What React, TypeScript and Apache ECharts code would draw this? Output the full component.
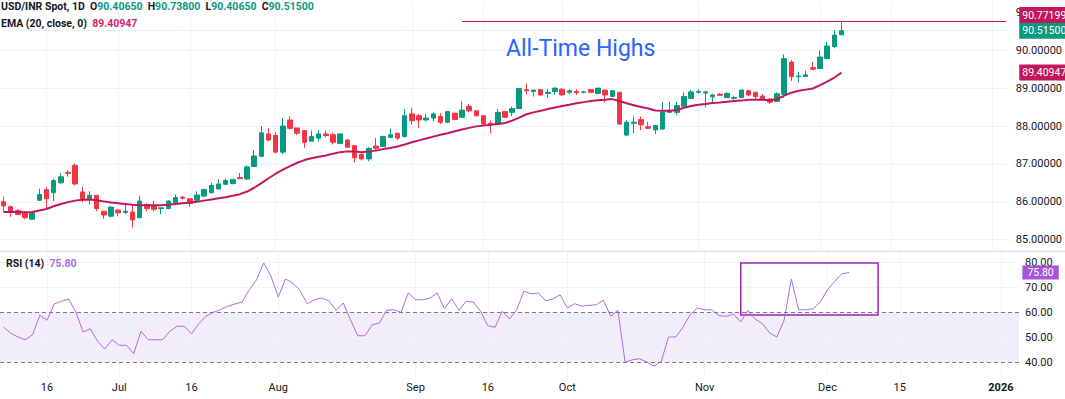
import React, { useEffect, useRef } from 'react';
import * as echarts from 'echarts';

const FONT = 'Roboto, "Liberation Sans", Arial, sans-serif';

const slotCount = 141;
const categories = Array.from({ length: slotCount }, (_, i) => String(i));

const xTickIndex = [6, 16, 26, 38, 57, 67, 78, 97, 114, 124, 138];
const xTickLabels = ['16', 'Jul', '16', 'Aug', 'Sep', '16', 'Oct', 'Nov', 'Dec', '15', '2026'];

const opens = [86.00,85.87,85.77,85.71,85.54,86.04,86.32,86.24,86.50,86.78,
86.96,86.26,86.06,86.17,85.75,85.62,85.78,85.72,85.73,85.58,
85.93,85.89,85.82,85.82,85.97,86.12,86.08,86.04,86.15,86.24,
86.34,86.46,86.48,86.64,86.60,86.93,87.20,87.79,87.75,87.31,
88.16,87.95,87.88,87.60,87.68,87.79,87.77,87.54,87.63,87.48,
87.25,87.13,87.47,87.46,87.70,87.81,87.72,88.32,88.27,88.16,
88.21,88.25,88.10,88.34,88.23,88.52,88.40,88.27,88.07,88.05,
88.38,88.36,88.46,88.96,88.91,88.96,88.86,88.91,88.97,88.89,
88.91,88.89,88.96,88.86,88.95,88.78,88.89,87.76,88.07,88.17,
87.98,87.90,87.92,88.36,88.36,88.52,88.73,88.89,88.87,88.77,
88.84,88.75,88.73,88.75,88.93,88.89,88.79,88.71,88.65,88.84,
89.69,89.30,89.31,89.54,89.52,89.78,90.10,90.4065];

const closes = [85.89,85.75,85.66,85.58,85.71,86.19,86.08,86.56,86.66,86.75,
86.47,86.06,86.17,85.82,85.65,85.86,85.71,85.75,85.52,86.02,
85.82,85.80,85.84,86.02,86.11,86.09,85.95,86.18,86.32,86.43,
86.47,86.56,86.59,86.61,86.92,87.21,87.82,87.63,87.31,88.00,
87.94,87.81,87.57,87.72,87.79,87.75,87.57,87.79,87.44,87.16,
87.13,87.41,87.41,87.72,87.77,87.68,88.27,88.14,88.16,88.21,
88.32,88.10,88.38,88.17,88.42,88.40,88.27,88.05,88.04,88.36,
88.23,88.46,88.99,88.93,88.95,88.82,88.89,89.00,88.82,88.93,
88.88,88.90,88.89,89.00,88.82,88.93,88.05,88.10,88.10,88.03,
87.94,88.01,88.36,88.40,88.54,88.78,88.90,88.91,88.90,88.82,
88.81,88.86,88.75,88.95,88.82,88.78,88.69,88.63,88.85,89.78,
89.30,89.32,89.35,89.50,89.82,90.11,90.40,90.515];

const lows = [85.74,85.60,85.65,85.54,85.52,86.02,85.82,86.02,86.47,86.66,
86.43,85.99,85.93,85.75,85.55,85.58,85.62,85.67,85.32,85.56,
85.75,85.75,85.67,85.80,85.93,86.06,85.87,86.00,86.12,86.22,
86.32,86.44,86.46,86.60,86.57,86.92,87.18,87.60,87.28,87.26,
87.90,87.76,87.42,87.60,87.59,87.70,87.51,87.53,87.42,87.04,
87.09,87.07,87.35,87.44,87.68,87.63,87.70,88.04,87.94,88.12,
88.12,88.05,88.08,88.17,88.21,88.36,88.25,88.01,87.81,88.03,
88.21,88.27,88.45,88.84,88.78,88.80,88.75,88.82,88.80,88.84,
88.82,88.86,88.89,88.84,88.62,88.77,88.04,87.74,87.81,87.89,
87.92,87.79,87.90,88.36,88.29,88.49,88.71,88.86,88.49,88.58,
88.79,88.74,88.69,88.74,88.78,88.71,88.68,88.58,88.64,88.74,
89.19,89.15,89.31,89.48,89.50,89.76,90.05,90.4065];

const highs = [86.13,85.90,85.80,85.75,85.74,86.34,86.39,86.61,86.76,86.83,
87.01,86.39,86.28,86.17,85.75,85.89,85.80,85.93,85.93,86.15,
85.96,86.02,85.84,86.04,86.19,86.15,86.08,86.28,86.35,86.50,
86.59,86.61,86.59,86.76,86.96,87.36,88.00,87.94,87.83,88.21,
88.25,87.95,87.88,87.88,87.89,87.88,87.83,87.81,87.66,87.48,
87.28,87.44,87.68,87.75,87.94,87.81,88.45,88.47,88.32,88.32,
88.36,88.34,88.38,88.34,88.65,88.58,88.42,88.27,88.14,88.45,
88.40,88.51,88.99,89.12,88.95,88.96,88.97,89.02,89.00,88.97,
88.97,88.93,88.96,89.00,88.95,88.95,88.89,88.16,88.25,88.25,
88.11,88.01,88.64,88.64,88.64,88.89,88.95,88.97,88.93,88.84,
88.87,88.89,88.80,88.95,88.95,88.89,88.84,88.73,88.89,89.89,
89.74,89.43,89.46,89.69,90.00,90.22,90.53,90.738];

const ema20 = [85.73,85.73,85.73,85.72,85.73,85.77,85.81,85.88,85.94,85.99,
86.03,86.05,86.06,86.04,86.01,85.98,85.96,85.94,85.92,85.91,
85.91,85.91,85.91,85.92,85.94,85.96,85.98,86.00,86.03,86.06,
86.09,86.12,86.16,86.20,86.27,86.37,86.49,86.62,86.74,86.85,
86.94,87.03,87.10,87.15,87.19,87.22,87.27,87.31,87.33,87.33,
87.31,87.33,87.35,87.39,87.42,87.46,87.51,87.57,87.62,87.67,
87.72,87.77,87.81,87.86,87.91,87.95,87.99,88.01,88.03,88.05,
88.08,88.14,88.22,88.31,88.36,88.40,88.45,88.49,88.53,88.56,
88.60,88.63,88.66,88.68,88.69,88.71,88.66,88.60,88.55,88.50,
88.46,88.41,88.40,88.40,88.42,88.48,88.53,88.56,88.58,88.61,
88.62,88.64,88.66,88.67,88.69,88.69,88.69,88.68,88.71,88.80,
88.88,88.93,88.96,88.99,89.08,89.17,89.28,89.40947];

const rsi14 = [54.0,51.5,50.0,48.9,50.9,58.7,56.7,63.2,64.3,65.2,
60.0,52.0,53.3,48.3,45.2,48.9,46.7,46.7,43.3,52.3,
48.9,48.9,48.9,52.3,54.3,54.3,51.3,55.3,58.3,59.9,
60.9,62.3,63.2,64.0,68.9,72.9,79.6,74.3,66.0,73.2,
71.6,68.7,63.3,64.9,65.6,64.5,60.7,63.6,56.9,50.5,
50.5,54.9,55.6,60.7,60.9,59.9,67.6,64.9,64.9,65.6,
67.6,61.3,65.3,60.7,64.3,64.0,60.3,54.5,53.9,60.3,
57.2,60.9,68.3,67.3,67.6,64.5,65.2,66.9,61.6,63.3,
62.3,62.7,62.9,64.7,58.3,60.7,39.9,40.9,41.3,40.0,
38.3,40.3,50.0,50.0,53.9,58.9,61.6,60.9,60.9,58.5,
58.3,59.2,56.0,60.7,57.2,55.3,51.6,50.0,56.7,73.2,
60.9,60.9,61.3,64.0,68.9,72.3,75.3,75.8];

const athValue = 90.77199;
const athStartIndex = 64;
const rsiBoxStart = [102, 79.6];
const rsiBoxEnd = [121, 58.8];

const priceGridLevels = [85, 86, 87, 88, 89, 90];
const rsiGridLevels = [50, 70, 80];
const rsiBandLevels = [40, 60];

const UP = '#089981';
const DOWN = '#f23645';
const EMA_COLOR = '#c2185b';
const RSI_COLOR = '#b16ae0';
const TEXT = '#131722';
const GRID_LINE = '#f0f3fa';
const CLEAR = 'rgba(0,0,0,0)';

const lastIdx = closes.length - 1;
const lastSlot = slotCount - 1;

function tag(text: string, bg: string, offsetX = 10, offsetY = 0, pad: number[] = [2, 4, 2, 3]) {
  return {
    show: true,
    position: 'end',
    distance: 3,
    formatter: text,
    color: '#ffffff',
    backgroundColor: bg,
    padding: pad,
    fontSize: 10.5,
    lineHeight: 12,
    fontFamily: FONT,
    opacity: 1,
    offset: [offsetX, offsetY],
  };
}

const option: any = {
  animation: false,
  backgroundColor: '#ffffff',
  textStyle: { fontFamily: FONT },
  title: [
    {
      left: 1,
      top: 1,
      padding: 0,
      text:
        '{n|USD/INR Spot, 1D}  {n|O}{v|' + opens[lastIdx].toFixed(5) + '}  {n|H}{v|' + highs[lastIdx].toFixed(5) +
        '}  {n|L}{v|' + lows[lastIdx].toFixed(5) + '}  {n|C}{v|' + closes[lastIdx].toFixed(5) + '}',
      textStyle: {
        fontSize: 10.5,
        rich: {
          n: { fontSize: 10.5, color: TEXT, fontFamily: FONT },
          v: { fontSize: 10.5, color: UP, fontFamily: FONT },
        },
      },
    },
    {
      left: 1,
      top: 17.5,
      padding: 0,
      text: '{n|EMA (20, close, 0)}  {v|' + ema20[lastIdx].toFixed(5) + '}',
      textStyle: {
        fontSize: 10.5,
        rich: {
          n: { fontSize: 10.5, color: TEXT, fontFamily: FONT },
          v: { fontSize: 10.5, color: '#d81b60', fontFamily: FONT },
        },
      },
    },
    {
      left: 6,
      top: 257.5,
      padding: 0,
      text: '{n|RSI (14)}  {v|' + rsi14[lastIdx].toFixed(2) + '}',
      textStyle: {
        fontSize: 10.5,
        rich: {
          n: { fontSize: 10.5, color: TEXT, fontFamily: FONT },
          v: { fontSize: 10.5, color: RSI_COLOR, fontFamily: FONT },
        },
      },
    },
    {
      left: 506,
      top: 36.5,
      padding: 0,
      text: 'All-Time Highs',
      textStyle: { color: '#2962ff', fontSize: 23, fontWeight: 'normal', fontFamily: FONT },
    },
  ],
  graphic: [
    { type: 'rect', shape: { x: 0, y: 250.5, width: 1065, height: 1.5 }, style: { fill: '#e0e3eb' }, silent: true },
  ],
  grid: [
    { left: 0, right: 46, top: 1, height: 250 },
    { left: 0, right: 46, top: 252, height: 125 },
  ],
  xAxis: [
    {
      type: 'category', gridIndex: 0, data: categories, boundaryGap: true,
      axisLine: { show: false }, axisTick: { show: false }, axisLabel: { show: false }, splitLine: { show: false },
    },
    {
      type: 'category', gridIndex: 1, data: categories, boundaryGap: true,
      axisLine: { show: false }, axisTick: { show: false }, splitLine: { show: false },
      axisLabel: {
        interval: (i: number) => xTickIndex.indexOf(i) >= 0,
        formatter: (v: string) => {
          const k = xTickIndex.indexOf(Number(v));
          if (k < 0) return '';
          const t = xTickLabels[k];
          return t === '2026' ? '{b|' + t + '}' : t;
        },
        margin: 5,
        color: TEXT,
        fontSize: 11,
        fontFamily: FONT,
        rich: { b: { fontWeight: 'bold', fontSize: 11, color: TEXT, fontFamily: FONT } },
      },
    },
  ],
  yAxis: [
    {
      type: 'value', gridIndex: 0, position: 'right', min: 84.7, max: 91.3, interval: 0.1,
      axisLine: { show: false }, axisTick: { show: false }, splitLine: { show: false },
      axisLabel: {
        formatter: (v: number) => (Math.abs(v - Math.round(v)) < 1e-6 ? v.toFixed(5) : ''),
        margin: 6, color: TEXT, fontSize: 11, fontFamily: FONT,
      },
    },
    {
      type: 'value', gridIndex: 1, position: 'right', min: 34, max: 84, interval: 2,
      axisLine: { show: false }, axisTick: { show: false }, splitLine: { show: false },
      axisLabel: {
        formatter: (v: number) => {
          const r = Math.round(v);
          return Math.abs(v - r) < 1e-6 && r % 10 === 0 && r >= 40 && r <= 80 ? r.toFixed(2) : '';
        },
        margin: 6, color: TEXT, fontSize: 11, fontFamily: FONT,
      },
    },
  ],
  series: [
    {
      name: 'grid-main', type: 'line', xAxisIndex: 0, yAxisIndex: 0, silent: true,
      data: closes.map(() => null), showSymbol: false, lineStyle: { opacity: 0 },
      markLine: {
        z: 0, silent: true, symbol: ['none', 'none'], animation: false,
        label: { show: false },
        lineStyle: { color: GRID_LINE, width: 1, type: 'solid' },
        emphasis: { disabled: true },
        data: [
          ...xTickIndex.map((i) => ({ xAxis: String(i) })),
          ...priceGridLevels.map((v) => ({ yAxis: v })),
        ],
      },
    },
    {
      name: 'USD/INR', type: 'candlestick', xAxisIndex: 0, yAxisIndex: 0, barWidth: 5,
      data: opens.map((o, i) => [o, closes[i], lows[i], highs[i]]),
      itemStyle: { color: UP, color0: DOWN, borderColor: UP, borderColor0: DOWN, borderWidth: 1 },
      markLine: {
        silent: true, symbol: ['none', 'none'], animation: false,
        emphasis: { disabled: true },
        data: [
          [
            {
              coord: [0, closes[lastIdx]],
              lineStyle: { color: 'rgba(8,153,129,0.22)', width: 1, type: 'dotted' },
              label: tag(closes[lastIdx].toFixed(5), UP),
            },
            { coord: [lastSlot, closes[lastIdx]] },
          ],
          [
            {
              coord: [athStartIndex, athValue],
              lineStyle: { color: EMA_COLOR, width: 1, type: 'solid' },
              label: tag(athValue.toFixed(5), EMA_COLOR, 10, -6),
            },
            { coord: [lastSlot, athValue] },
          ],
        ],
      },
    },
    {
      name: 'EMA 20', type: 'line', xAxisIndex: 0, yAxisIndex: 0, data: ema20, showSymbol: false,
      lineStyle: { color: EMA_COLOR, width: 2 }, itemStyle: { color: EMA_COLOR }, z: 3,
      markLine: {
        silent: true, symbol: ['none', 'none'], animation: false,
        emphasis: { disabled: true },
        data: [
          [
            {
              coord: [lastIdx, ema20[lastIdx]],
              lineStyle: { color: CLEAR, width: 1 },
              label: tag(ema20[lastIdx].toFixed(5), EMA_COLOR),
            },
            { coord: [lastSlot, ema20[lastIdx]] },
          ],
        ],
      },
    },
    {
      name: 'grid-rsi', type: 'line', xAxisIndex: 1, yAxisIndex: 1, silent: true,
      data: rsi14.map(() => null), showSymbol: false, lineStyle: { opacity: 0 },
      markLine: {
        z: 0, silent: true, symbol: ['none', 'none'], animation: false,
        label: { show: false },
        lineStyle: { color: GRID_LINE, width: 1, type: 'solid' },
        emphasis: { disabled: true },
        data: [
          ...xTickIndex.map((i) => ({ xAxis: String(i) })),
          ...rsiGridLevels.map((v) => ({ yAxis: v })),
        ],
      },
      markArea: {
        silent: true, z: 0,
        itemStyle: { color: 'rgba(126, 87, 194, 0.1)' },
        emphasis: { disabled: true },
        data: [[{ yAxis: rsiBandLevels[0] }, { yAxis: rsiBandLevels[1] }]],
      },
    },
    {
      name: 'RSI 14', type: 'line', xAxisIndex: 1, yAxisIndex: 1, data: rsi14, showSymbol: false,
      lineStyle: { color: RSI_COLOR, width: 1 }, itemStyle: { color: RSI_COLOR }, z: 3,
      markLine: {
        silent: true, symbol: ['none', 'none'], animation: false,
        emphasis: { disabled: true },
        data: [
          ...rsiBandLevels.map((v) => ({
            yAxis: v,
            lineStyle: { color: '#787b86', width: 1, type: [4, 3] },
            label: { show: false },
          })),
          [
            {
              coord: [lastIdx, rsi14[lastIdx]],
              lineStyle: { color: CLEAR, width: 1 },
              label: tag(rsi14[lastIdx].toFixed(2), '#a855d8', 4, 0, [1, 5, 1, 5]),
            },
            { coord: [lastSlot, rsi14[lastIdx]] },
          ],
        ],
      },
      markArea: {
        silent: true,
        emphasis: { disabled: true },
        data: [
          [
            {
              coord: rsiBoxStart,
              itemStyle: { color: CLEAR, borderColor: '#9c27b0', borderWidth: 1.5 },
            },
            { coord: rsiBoxEnd },
          ],
        ],
      },
    },
  ],
};

export default function App() {
  const ref = useRef<HTMLDivElement>(null);
  useEffect(() => {
    if (!ref.current) return;
    const chart = echarts.init(ref.current, null, { renderer: 'svg' });
    chart.setOption(option);
    return () => chart.dispose();
  }, []);
  return (
    <div
      ref={ref}
      style={{ position: 'fixed', left: 0, top: 0, width: 1065, height: 399, background: '#ffffff' }}
    />
  );
}
